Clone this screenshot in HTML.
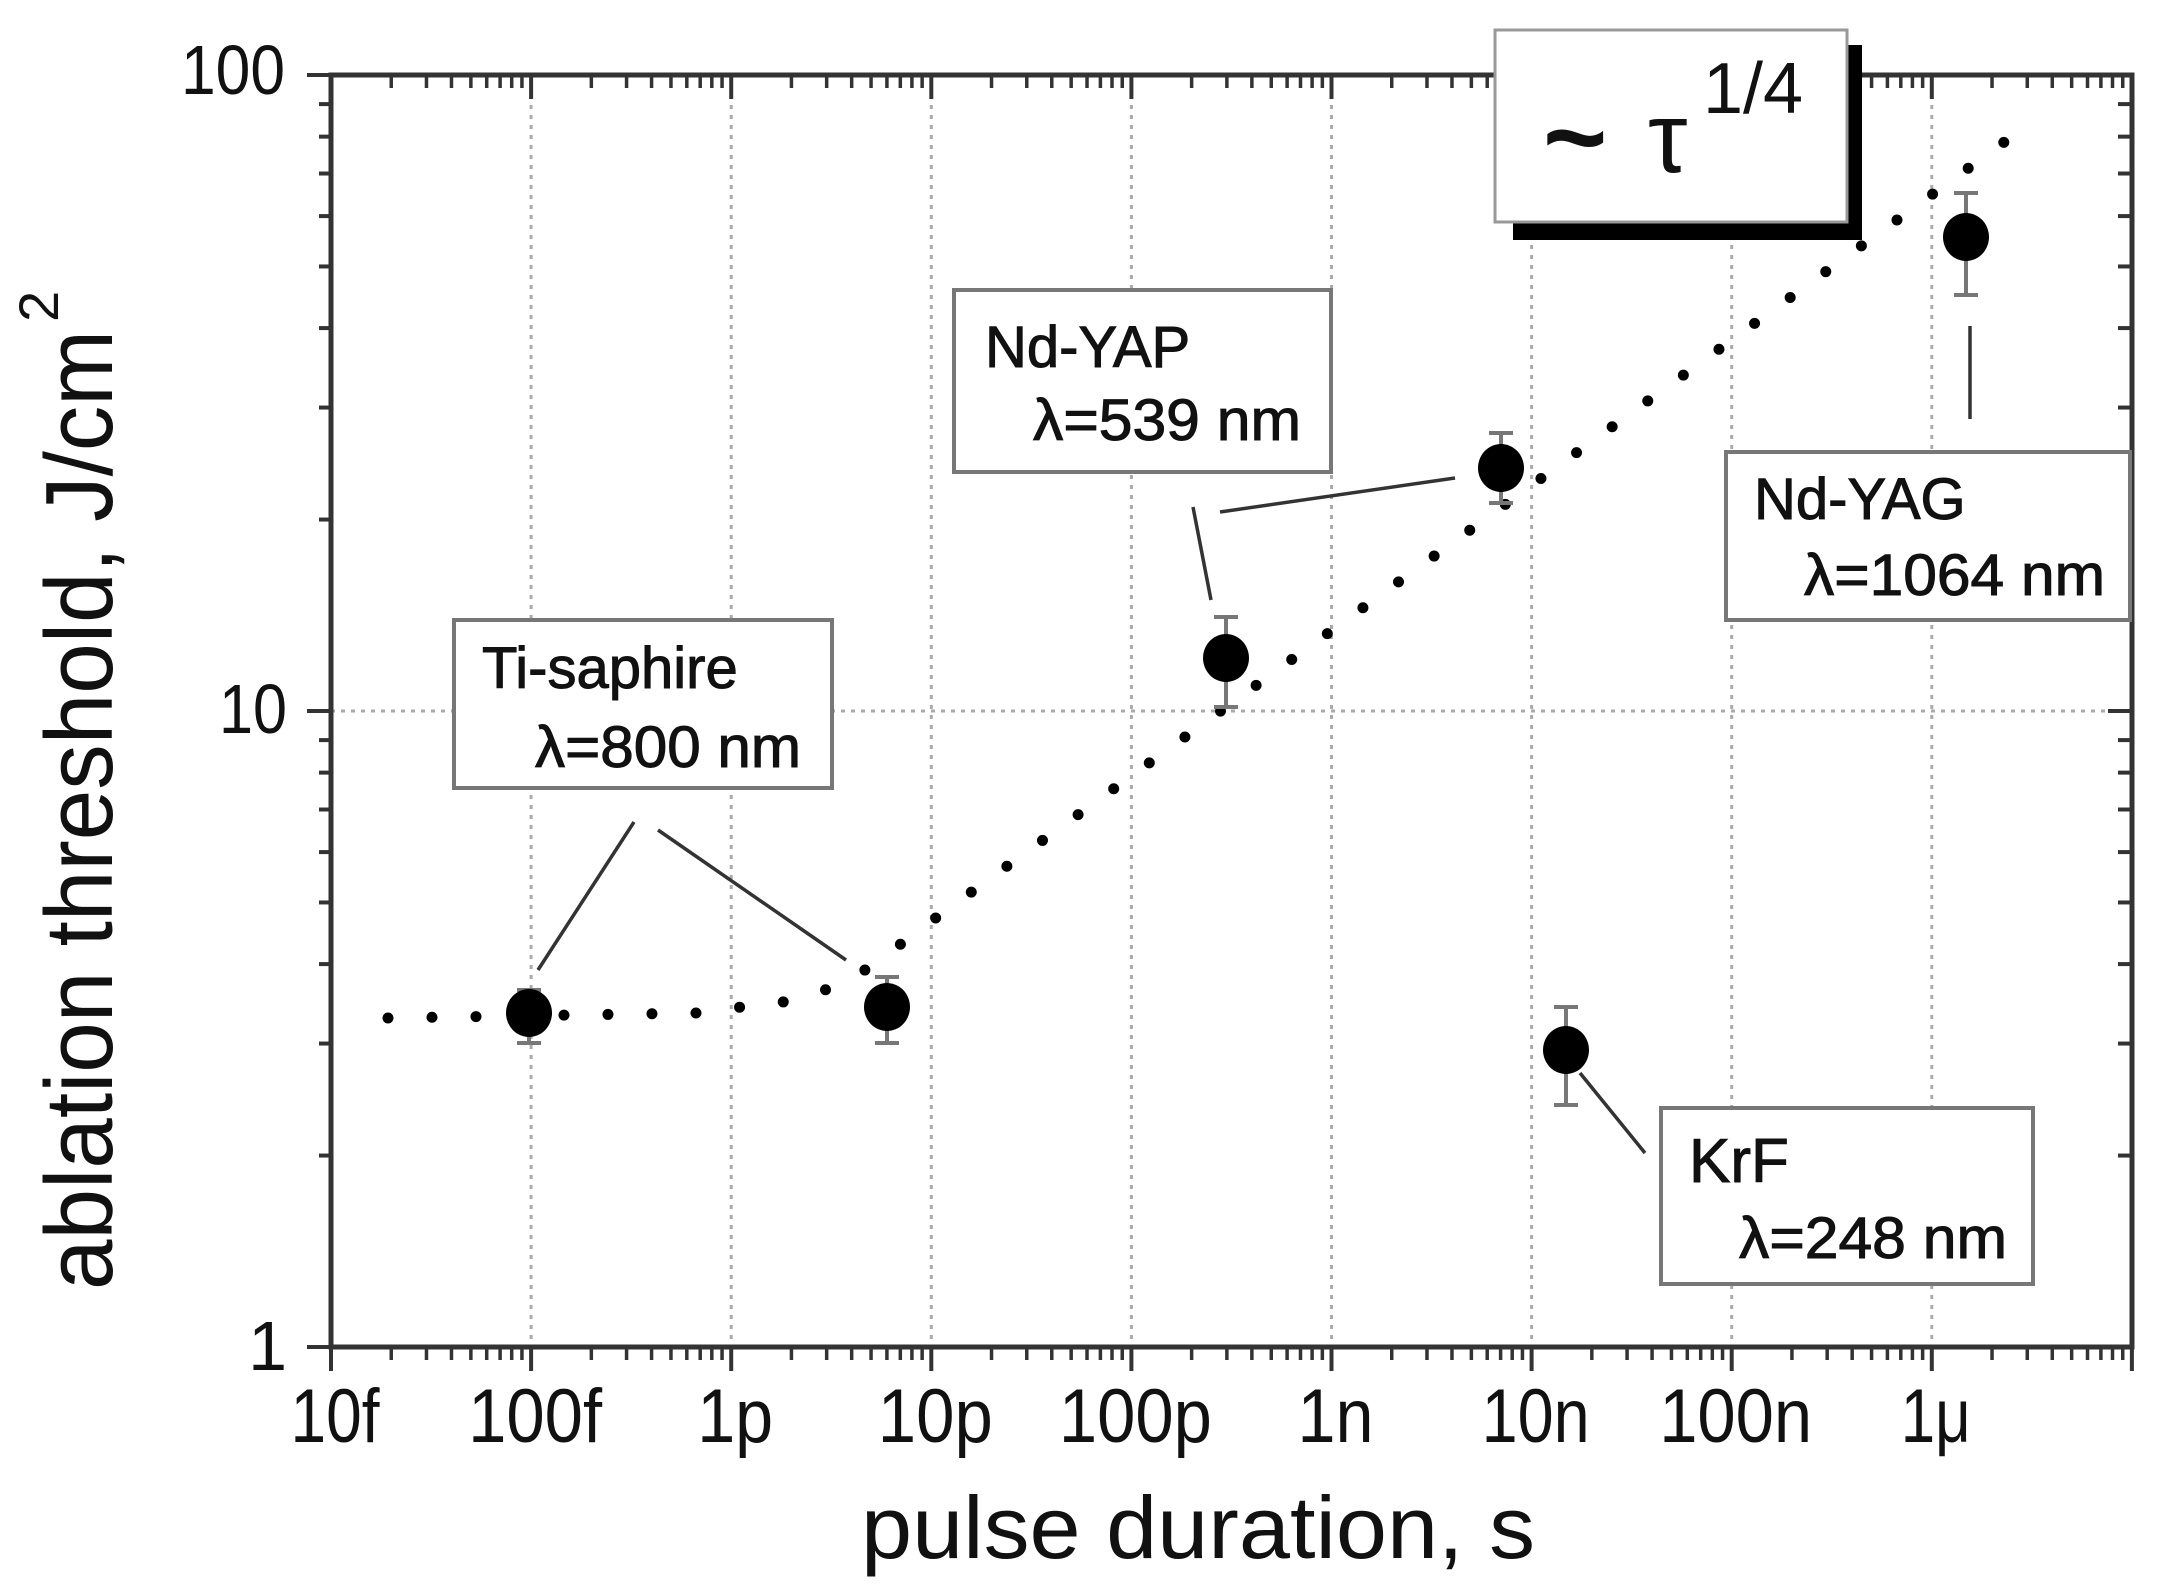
<!DOCTYPE html>
<html><head><meta charset="utf-8"><style>
html,body{margin:0;padding:0;background:#fff;}
svg{display:block;}
text{font-family:"Liberation Sans",Arial,sans-serif;fill:#111;}
</style></head><body>
<svg id="s" width="2165" height="1593" viewBox="0 0 2165 1593" xmlns="http://www.w3.org/2000/svg">
<rect x="0" y="0" width="2165" height="1593" fill="#fff"/>
<g id="grid"></g>
<g id="axes"></g>
<polyline points="388,1018 696,1013 741,1007 783,1002 825,990 871,967 915,933 2014,135" fill="none" stroke="#000" stroke-width="11" stroke-linecap="round" stroke-dasharray="0 44"/>
<g stroke="#333" stroke-width="3.5" fill="none">
<line x1="634" y1="822" x2="538" y2="970"/>
<line x1="658" y1="830" x2="846" y2="960"/>
<line x1="1193" y1="507" x2="1211" y2="600"/>
<line x1="1220" y1="512" x2="1455" y2="478"/>
<line x1="1970" y1="326" x2="1970" y2="419"/>
<line x1="1580" y1="1073" x2="1645" y2="1153"/>
</g>
<g id="pts"></g>
<g stroke="#777" stroke-width="4" fill="#fff">
<rect x="454" y="620" width="378" height="168"/>
<rect x="954" y="290" width="377" height="182"/>
<rect x="1726" y="452" width="404" height="168"/>
<rect x="1661" y="1108" width="372" height="176"/>
</g>
<g font-size="58" stroke="#111" stroke-width="1">
<text x="482" y="688">Ti-saphire</text>
<text x="535" y="767" textLength="266" lengthAdjust="spacingAndGlyphs">λ=800 nm</text>
<text x="985" y="367">Nd-YAP</text>
<text x="1033" y="440" textLength="268" lengthAdjust="spacingAndGlyphs">λ=539 nm</text>
<text x="1754" y="519">Nd-YAG</text>
<text x="1804" y="595" textLength="301" lengthAdjust="spacingAndGlyphs">λ=1064 nm</text>
<text x="1689" y="1182" font-size="62">KrF</text>
<text x="1739" y="1258" textLength="268" lengthAdjust="spacingAndGlyphs">λ=248 nm</text>
</g>
<rect x="1513" y="45" width="349" height="195" fill="#000"/>
<rect x="1495" y="30" width="352" height="192" fill="#fff" stroke="#999" stroke-width="3"/>
<text x="1543" y="175" font-size="110" font-weight="bold">~</text>
<text x="1648" y="172" font-size="100">τ</text>
<text x="1703" y="113" font-size="72">1/4</text>
<g font-size="70" text-anchor="end">
<text x="285" y="94" textLength="104" lengthAdjust="spacingAndGlyphs">100</text>
<text x="287" y="733" textLength="68" lengthAdjust="spacingAndGlyphs">10</text>
<text x="287" y="1370">1</text>
</g>
<g id="xl" font-size="76"></g>
<text x="861" y="1558" font-size="88" textLength="674" lengthAdjust="spacingAndGlyphs">pulse duration, s</text>
<text transform="translate(112,1290) rotate(-90)" font-size="96" textLength="960" lengthAdjust="spacingAndGlyphs">ablation threshold, J/cm</text>
<text transform="translate(58,322) rotate(-90)" font-size="56">2</text>
</svg>
<script>
(function(){
var NS="http://www.w3.org/2000/svg";
function el(p,n,a,t){var e=document.createElementNS(NS,n);for(var k in a)e.setAttribute(k,a[k]);if(t)e.textContent=t;document.getElementById(p).appendChild(e);return e;}
var L=331,R=2132,T=75,B=1347,dx=200.1,dy=636;
function X(l){return L+dx*(l+14);}
function Y(v){return B-dy*Math.log10(v);}
for(var d=1;d<9;d++){var x=X(-14+d);el("grid","line",{x1:x,y1:T,x2:x,y2:B,stroke:"#aaa","stroke-width":3,"stroke-dasharray":"4 6"});}
el("grid","line",{x1:L,y1:Y(10),x2:R,y2:Y(10),stroke:"#aaa","stroke-width":3,"stroke-dasharray":"4 6"});
el("axes","rect",{x:L,y:T,width:R-L,height:B-T,stroke:"#333","stroke-width":5,fill:"none"});
for(var d=0;d<=9;d++){
  var b=-14+d;var x=X(b);
  el("axes","line",{x1:x,y1:B,x2:x,y2:B+24,stroke:"#333","stroke-width":4});
  el("axes","line",{x1:x,y1:T,x2:x,y2:T+24,stroke:"#333","stroke-width":4});
  if(d<9)for(var m=2;m<10;m++){var xm=X(b+Math.log10(m));
    el("axes","line",{x1:xm,y1:B,x2:xm,y2:B+13,stroke:"#333","stroke-width":3.5});
    el("axes","line",{x1:xm,y1:T,x2:xm,y2:T+13,stroke:"#333","stroke-width":3.5});}
}
for(var e=0;e<=2;e++){var y=Y(Math.pow(10,e));
  el("axes","line",{x1:L-24,y1:y,x2:L,y2:y,stroke:"#333","stroke-width":4});
  el("axes","line",{x1:R-24,y1:y,x2:R,y2:y,stroke:"#333","stroke-width":4});
  if(e<2)for(var m=2;m<10;m++){var ym=Y(m*Math.pow(10,e));
    el("axes","line",{x1:L-12,y1:ym,x2:L,y2:ym,stroke:"#333","stroke-width":4});
    el("axes","line",{x1:R-14,y1:ym,x2:R,y2:ym,stroke:"#333","stroke-width":4});}
}
var labs=["10f","100f","1p","10p","100p","1n","10n","100n","1μ"];
var w=[89,134,76,115,153,76,108,153,70];
for(var i=0;i<labs.length;i++){el("xl","text",{x:X(-14+i)+4-w[i]/2,y:1442,textLength:w[i],lengthAdjust:"spacingAndGlyphs"},labs[i]);}
var P=[[529,1013,990,1043],[887,1007,977,1043],[1226,658,617,707],[1501,468,433,503],[1966,237,193,295],[1566,1050,1007,1105]];
P.forEach(function(p){
  el("pts","line",{x1:p[0],y1:p[2],x2:p[0],y2:p[3],stroke:"#777","stroke-width":4});
  el("pts","line",{x1:p[0]-12,y1:p[2],x2:p[0]+12,y2:p[2],stroke:"#777","stroke-width":4});
  el("pts","line",{x1:p[0]-12,y1:p[3],x2:p[0]+12,y2:p[3],stroke:"#777","stroke-width":4});
  el("pts","ellipse",{cx:p[0],cy:p[1],rx:23,ry:24,fill:"#000"});
});
})();
</script>
</body></html>
